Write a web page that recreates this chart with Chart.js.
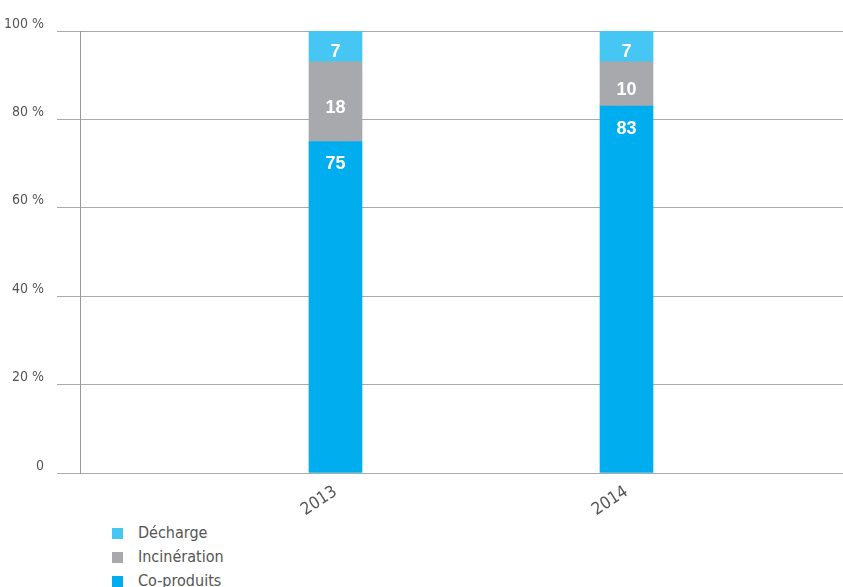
<!DOCTYPE html>
<html>
<head>
<meta charset="utf-8">
<script src="https://cdn.jsdelivr.net/npm/chart.js@4/dist/chart.umd.min.js"></script>
<style>
	body { margin: 0; background: #fff; }
	#wrap { position: relative; width: 843px; height: 587px; overflow: hidden; }
	#legend { position: absolute; left: 112px; top: 521px; margin: 0; padding: 0; list-style: none;
		font: 16px "Liberation Sans Narrow", "DejaVu Sans Condensed", sans-serif; color: #555; }
	#legend li { height: 24px; line-height: 24px; white-space: nowrap; }
	#legend span { display: inline-block; width: 11px; height: 11px; margin-right: 15px; vertical-align: -1px; }
</style>
</head>
<body>
<div id="wrap">
	<canvas id="myChart" width="843" height="520"></canvas>
	<ul id="legend"></ul>
</div>
<script>
const years = ['2013', '2014'];
const coProduits = [75, 83];
const incineration = [18, 10];
const decharge = [7, 7];
const yTicks = [0, 20, 40, 60, 80, 100];

const condensed = '"Liberation Sans Narrow", "DejaVu Sans Condensed", sans-serif';

// white value labels inside the stacked segments
const barLabels = {
	id: 'barLabels',
	afterDatasetsDraw(chart) {
		const ctx = chart.ctx;
		ctx.save();
		ctx.font = 'bold 18px "Liberation Sans", Arial, sans-serif';
		ctx.fillStyle = '#fff';
		ctx.textAlign = 'center';
		ctx.textBaseline = 'middle';
		chart.data.datasets.forEach((ds, i) => {
			chart.getDatasetMeta(i).data.forEach((bar, j) => {
				const top = Math.min(bar.y, bar.base);
				const bottom = Math.max(bar.y, bar.base);
				// bottom segment gets its label near the top
				const y = i === 0 ? top + 23 : (top + bottom) / 2 + 6;
				ctx.fillText(ds.data[j], bar.x, y);
			});
		});
		ctx.restore();
	}
};

const ctx = document.getElementById('myChart');

const chart = new Chart(ctx, {
	type: 'bar',
	data: {
		labels: years,
		datasets: [{
			label: 'Co-produits',
			data: coProduits,
			backgroundColor: '#00adee'
		}, {
			label: 'Incinération',
			data: incineration,
			backgroundColor: '#a7a9ac'
		}, {
			label: 'Décharge',
			data: decharge,
			backgroundColor: '#45c6f3'
		}]
	},
	plugins: [barLabels],
	options: {
		responsive: false,
		animation: false,
		layout: {
			padding: { top: 31, left: 0, right: 0, bottom: 0 }
		},
		datasets: {
			bar: { barThickness: 53 }
		},
		plugins: {
			legend: { display: false },
			tooltip: { enabled: false }
		},
		scales: {
			x: {
				type: 'linear',
				stacked: true,
				offset: false,
				min: 2012.122,
				max: 2014.744,
				afterBuildTicks: (scale) => {
					scale.ticks = years.map(y => ({ value: +y }));
				},
				afterFit: (scale) => { scale.height = 47; },
				grid: { display: false, drawTicks: false },
				border: { display: false },
				ticks: {
					minRotation: 33,
					maxRotation: 33,
					padding: 9,
					color: '#555',
					font: { family: condensed, size: 17 },
					callback: (v) => String(v)
				}
			},
			y: {
				stacked: true,
				min: 0,
				max: 100,
				afterBuildTicks: (scale) => {
					scale.ticks = yTicks.map(v => ({ value: v }));
				},
				afterFit: (scale) => { scale.width = 80; },
				grid: { color: '#aaaaaa', tickLength: 23 },
				border: { display: true, color: '#999999' },
				ticks: {
					padding: 13,
					labelOffset: -7,
					color: '#555',
					font: { family: condensed, size: 14 },
					callback: (v) => v === 0 ? '0' : v + ' %'
				}
			}
		}
	}
});

// legend as a plain list, top item first
const legend = document.getElementById('legend');
chart.data.datasets.slice().reverse().forEach(ds => {
	const li = document.createElement('li');
	const box = document.createElement('span');
	box.style.background = ds.backgroundColor;
	li.appendChild(box);
	li.appendChild(document.createTextNode(ds.label));
	legend.appendChild(li);
});
</script>
</body>
</html>
